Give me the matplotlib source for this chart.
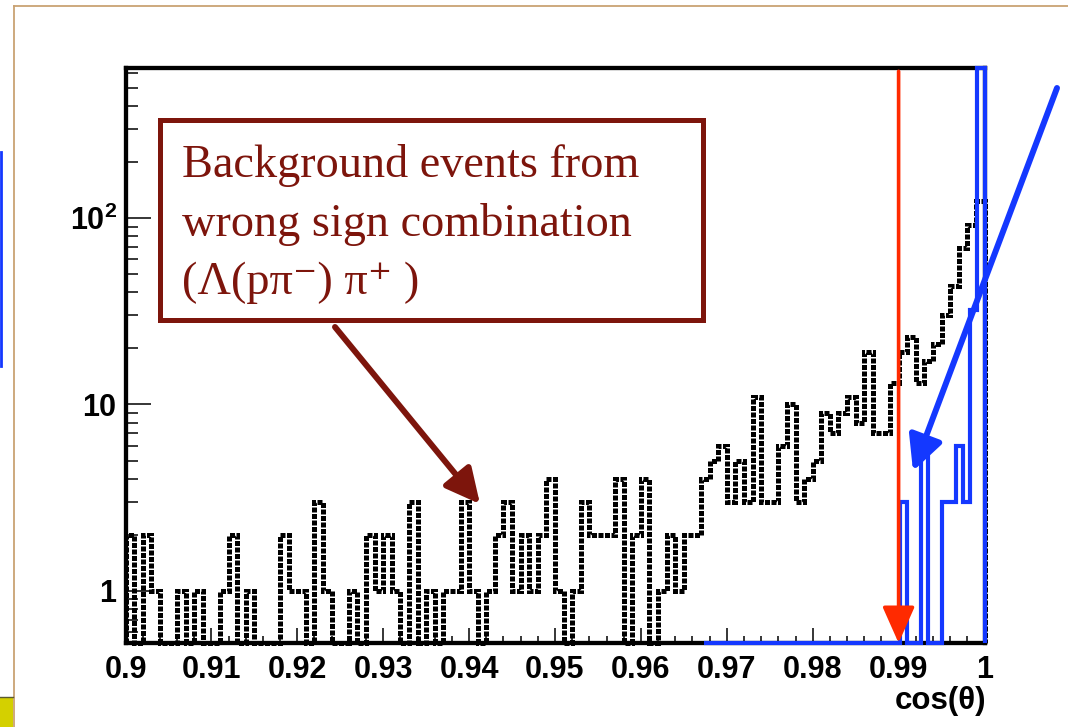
import numpy as np
import matplotlib.pyplot as plt
from matplotlib.patches import Rectangle, FancyArrowPatch
from matplotlib.lines import Line2D
from matplotlib.ticker import MultipleLocator, LogLocator, NullFormatter

plt.rcParams['font.family'] = ['Liberation Sans', 'DejaVu Sans']
plt.rcParams['mathtext.fontset'] = 'custom'
plt.rcParams['mathtext.rm'] = 'Liberation Serif'
plt.rcParams['mathtext.it'] = 'Liberation Serif:italic'
plt.rcParams['mathtext.bf'] = 'Liberation Sans:bold'

# wrong sign background, 100 bins of 0.001 in cos(theta)
bkg_lo, bkg_hi = 0.9, 1.0
bkg_counts = [
    2, 0, 2, 1, 0, 0, 1, 0, 1, 0,
    0, 1, 2, 0, 1, 0, 0, 0, 2, 1,
    1, 0, 3, 1, 0, 0, 1, 0, 2, 1,
    2, 1, 0, 3, 0, 1, 0, 1, 1, 3,
    1, 0, 1, 2, 3, 1, 2, 1, 2, 4,
    1, 0, 1, 3, 2, 2, 2, 4, 0, 2,
    4, 0, 1, 2, 1, 2, 2, 4, 5, 6,
    3, 5, 3, 11, 3, 3, 6, 10, 3, 4,
    5, 9, 7, 9, 11, 8, 19, 7, 7, 13,
    19, 23, 13, 17, 21, 30, 43, 69, 92, 124,
]

# signal, 40 bins from 0.9673 to 1 (last bin runs off the top)
sig_lo, sig_hi = 0.9673, 1.0
sig_counts = [
    0, 0, 0, 0, 0, 0, 0, 0, 0, 0,
    0, 0, 0, 0, 0, 0, 0, 0, 0, 0,
    0, 0, 0, 0, 0, 0, 0, 0, 3, 0,
    0, 6, 0, 0, 3, 3, 6, 3, 32, 1500,
]

cut = 0.99
x_tick_labels = ['0.9', '0.91', '0.92', '0.93', '0.94', '0.95',
                 '0.96', '0.97', '0.98', '0.99', '1']
y_ticks = [1, 10, 100]
y_tick_labels = [r'$\mathbf{1}$', r'$\mathbf{10}$', r'$\mathbf{10^{2}}$']
y_lo, y_hi = 0.526, 637

maroon = '#7d150c'
blue = '#1438ff'
red = '#ff2a00'

W, H = 1068, 727
fig = plt.figure(figsize=(W / 100, H / 100), dpi=100)


def fpos(x, y):
    # pixel position on the slide -> figure fraction
    return x / W, 1 - y / H


ax = fig.add_axes([125.5 / W, 1 - 643 / H, 859 / W, 575 / H])
ax.set_yscale('log')
ax.set_xlim(bkg_lo, bkg_hi)
ax.set_ylim(y_lo, y_hi)


def on_frame(counts):
    # empty bins sit on the bottom of the frame, overflow on the top
    c = np.asarray(counts, dtype=float)
    c = np.where(c > 0, c, y_lo)
    return np.clip(c, y_lo, y_hi)


bkg_edges = np.linspace(bkg_lo, bkg_hi, len(bkg_counts) + 1)
sig_edges = np.linspace(sig_lo, sig_hi, len(sig_counts) + 1)

ax.stairs(on_frame(bkg_counts), bkg_edges, baseline=y_lo, color='black',
          lw=3.6, linestyle=(0, (1.0, 0.3)), zorder=3, clip_on=False)
ax.stairs(on_frame(sig_counts), sig_edges, baseline=y_lo, color=blue,
          lw=3.0, zorder=4, clip_on=False)

# cut line
ax.annotate('', xy=(cut, y_lo), xytext=(cut, y_hi * 0.96),
            arrowprops=dict(arrowstyle='-|>,head_length=0.45,head_width=0.2',
                            color=red, lw=2.6, mutation_scale=50,
                            shrinkA=0, shrinkB=0),
            annotation_clip=False, zorder=5)

# axes styling
for s in ax.spines.values():
    s.set_linewidth(3.1)
ax.set_xticks([float(t) for t in x_tick_labels])
ax.set_xticklabels(x_tick_labels, fontweight='bold')
ax.xaxis.set_minor_locator(MultipleLocator(0.002))
ax.set_yticks(y_ticks)
ax.set_yticklabels(y_tick_labels)
ax.yaxis.set_minor_locator(LogLocator(base=10, subs=np.arange(2, 10)))
ax.yaxis.set_minor_formatter(NullFormatter())
ax.tick_params(axis='x', which='major', direction='in', length=10.6,
               width=1.1, pad=9, labelsize=22)
ax.tick_params(axis='x', which='minor', direction='in', length=5.3, width=1.1)
ax.tick_params(axis='y', which='major', direction='in', length=18,
               width=1.1, pad=6, labelsize=22)
ax.tick_params(axis='y', which='minor', direction='in', length=8.6, width=1.1)

fig.text(*fpos(986, 701), 'cos(θ)', ha='right', va='center',
         fontsize=22.5, fontweight='bold')

# annotation box
bx0, by0 = fpos(159.5, 320)
bx1, by1 = fpos(703.3, 120)
fig.add_artist(Rectangle((bx0, by0), bx1 - bx0, by1 - by0,
                         transform=fig.transFigure, fill=False,
                         ec=maroon, lw=3.6, zorder=6))
box_lines = ['Background events from', 'wrong sign combination',
             '(Λ(pπ⁻) π⁺ )']
for line, base in zip(box_lines, [177, 236, 294]):
    fig.text(*fpos(181.5, base), line,
             family=['Liberation Serif', 'DejaVu Serif'],
             fontsize=33.3, color=maroon, va='baseline', ha='left', zorder=7)

# arrows
fig.add_artist(FancyArrowPatch(fpos(335, 327), fpos(480, 504),
                               transform=fig.transFigure,
                               arrowstyle='-|>,head_length=0.5,head_width=0.25',
                               mutation_scale=42, lw=4.3, color=maroon,
                               shrinkA=0, shrinkB=0, zorder=6))
fig.add_artist(FancyArrowPatch(fpos(1057, 88), fpos(913, 471),
                               transform=fig.transFigure,
                               arrowstyle='-|>,head_length=0.5,head_width=0.25',
                               mutation_scale=42, lw=4.3, color=blue,
                               shrinkA=0, shrinkB=0, zorder=6))

# slide frame bits around the plot
tan = '#c9a273'
fig.add_artist(Line2D([14 / W, 14 / W], [1 - 6 / H, 0], color=tan, lw=1.3,
                      transform=fig.transFigure))
fig.add_artist(Line2D([14 / W, 1], [1 - 6 / H, 1 - 6 / H], color=tan, lw=1.3,
                      transform=fig.transFigure))
fig.add_artist(Line2D([1 / W, 1 / W], [1 - 152 / H, 1 - 366 / H], color=blue,
                      lw=2, transform=fig.transFigure))
fig.add_artist(Rectangle((0, 0), 13 / W, 30 / H, transform=fig.transFigure,
                         color='#d4d000', lw=0))
fig.add_artist(Line2D([0, 13 / W], [30 / H, 30 / H], color='#5a5a30', lw=1,
                      transform=fig.transFigure))

fig.savefig('out.png', dpi=100)
